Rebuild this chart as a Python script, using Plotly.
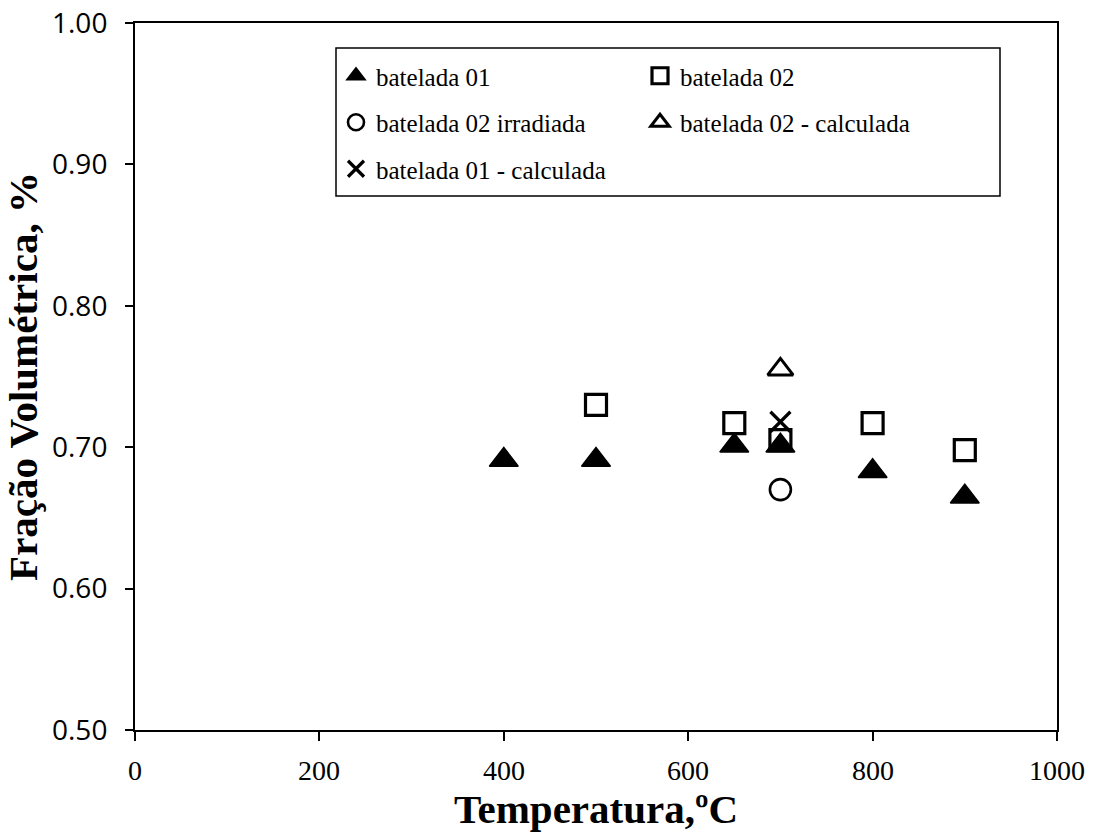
import plotly.graph_objects as go

# ---- data ----
temp_b01 = [400, 500, 650, 700, 800, 900]
frac_b01 = [0.691, 0.691, 0.701, 0.701, 0.683, 0.665]

temp_b02 = [500, 650, 700, 800, 900]
frac_b02 = [0.730, 0.717, 0.705, 0.717, 0.698]

temp_b02_irr = [700]
frac_b02_irr = [0.670]

temp_b02_calc = [700]
frac_b02_calc = [0.755]

temp_b01_calc = [700]
frac_b01_calc = [0.718]

x_ticks = [0, 200, 400, 600, 800, 1000]
x_ticklabels = ["0", "200", "400", "600", "800", "1000"]
y_ticks = [0.50, 0.60, 0.70, 0.80, 0.90, 1.00]
y_ticklabels = ["0.50", "0.60", "0.70", "0.80", "0.90", "1.00"]

W, H = 1094, 832
ML, MR, MT, MB = 135, 37, 23, 102
PW, PH = W - ML - MR, H - MT - MB

SERIF = "Liberation Serif, serif"


def px_x(p):
    return (p - ML) / PW


def px_y(p):
    return (H - MB - p) / PH


fig = go.Figure()

fig.add_trace(go.Scatter(
    x=temp_b01, y=frac_b01, mode="markers", name="batelada 01",
    legend="legend", legendgroup="g1",
    marker=dict(symbol="triangle-up", size=25, color="black",
                line=dict(color="black", width=1.5))))
fig.add_trace(go.Scatter(
    x=temp_b02, y=frac_b02, mode="markers", name="batelada 02",
    legend="legend2", legendgroup="g2",
    marker=dict(symbol="square-open", size=21, color="black",
                line=dict(color="black", width=3.2))))
fig.add_trace(go.Scatter(
    x=temp_b02_irr, y=frac_b02_irr, mode="markers", name="batelada 02 irradiada",
    legend="legend", legendgroup="g3",
    marker=dict(symbol="circle-open", size=21, color="black",
                line=dict(color="black", width=2.6))))
fig.add_trace(go.Scatter(
    x=temp_b02_calc, y=frac_b02_calc, mode="markers", name="batelada 02 - calculada",
    legend="legend2", legendgroup="g4",
    marker=dict(symbol="triangle-up-open", size=22, color="black",
                line=dict(color="black", width=3))))
fig.add_trace(go.Scatter(
    x=temp_b01_calc, y=frac_b01_calc, mode="markers", name="batelada 01 - calculada",
    legend="legend", legendgroup="g5",
    marker=dict(symbol="x-thin", size=20, color="black",
                line=dict(color="black", width=3.2))))

legend_font = dict(family=SERIF, size=25, color="black")

# x tick labels as text placed through the x axis scale (serif font)
x_label_annotations = [
    dict(x=v, xref="x", y=px_y(770), yref="paper", text=t, showarrow=False,
         xanchor="center", yanchor="middle",
         font=dict(family=SERIF, size=28, color="black"))
    for v, t in zip(x_ticks, x_ticklabels)
]

fig.update_layout(
    width=W, height=H,
    margin=dict(l=ML, r=MR, t=MT, b=MB, autoexpand=False),
    paper_bgcolor="white", plot_bgcolor="white",
    font=dict(family=SERIF, color="black"),
    showlegend=True,
    legend=dict(x=px_x(336), y=px_y(53), xanchor="left", yanchor="top",
                bgcolor="rgba(0,0,0,0)", borderwidth=0, font=legend_font,
                tracegroupgap=11, orientation="v"),
    legend2=dict(x=px_x(640), y=px_y(53), xanchor="left", yanchor="top",
                 bgcolor="rgba(0,0,0,0)", borderwidth=0, font=legend_font,
                 tracegroupgap=11, orientation="v"),
    shapes=[dict(type="rect", xref="paper", yref="paper",
                 x0=px_x(336), x1=px_x(1000), y0=px_y(196), y1=px_y(48),
                 line=dict(color="black", width=1.5), fillcolor="white",
                 layer="below")],
    annotations=x_label_annotations,
    xaxis=dict(
        range=[0, 1000], tickmode="array", tickvals=x_ticks,
        showticklabels=False,
        showgrid=False, zeroline=False, automargin=False,
        showline=True, linecolor="black", linewidth=2, mirror=True,
        ticks="outside", ticklen=9, tickwidth=1.5, tickcolor="black",
        title=dict(text="<b>Temperatura,ºC</b>", standoff=57,
                   font=dict(family=SERIF, size=41, color="black")),
    ),
    yaxis=dict(
        range=[0.5, 1.0], tickmode="array", tickvals=y_ticks,
        ticktext=y_ticklabels,
        showgrid=False, zeroline=False, automargin=False,
        showline=True, linecolor="black", linewidth=2, mirror=True,
        ticks="outside", ticklen=8, tickwidth=1.5, tickcolor="black",
        ticklabelstandoff=12,
        tickfont=dict(family="Open Sans", size=28, color="black"),
        title=dict(text="<b>Fração Volumétrica, %</b>", standoff=8,
                   font=dict(family=SERIF, size=41, color="black")),
    ),
)

fig.write_html("out.html")
